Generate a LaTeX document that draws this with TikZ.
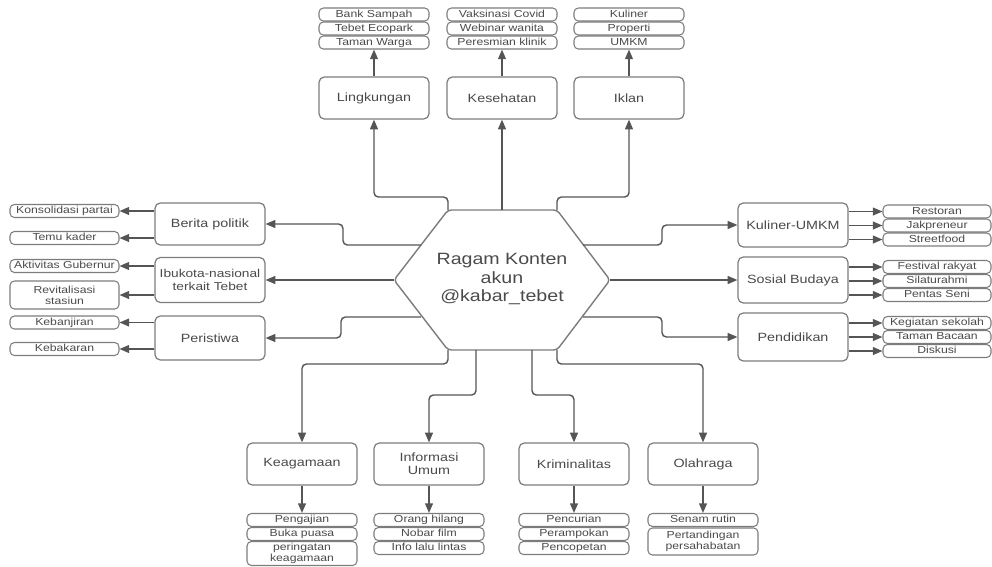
\documentclass[tikz,border=0pt]{standalone}
\usepackage{fontspec}
\setmainfont{Liberation Sans}[FakeStretch=1.2]
\usetikzlibrary{arrows.meta}
\definecolor{garis}{HTML}{555555}
\definecolor{tepi}{HTML}{7C7C7C}
\definecolor{huruf}{HTML}{4A4A4A}

\begin{document}
\begin{tikzpicture}[x=0.02cm,y=-0.02cm]
\tikzstyle{every node}=[text=huruf, inner sep=1pt]
\tikzstyle{kat}=[draw=tepi, line width=.7pt, rounded corners=3pt, minimum width=2.2cm, minimum height=0.84cm, align=center, font=\fontsize{6.8}{7.8}\selectfont]
\tikzstyle{daun}=[draw=tepi, line width=.6pt, rounded corners=2.5pt, minimum width=2.2cm, minimum height=7.4pt, inner sep=0pt, align=center, font=\fontsize{5.8}{6.4}\selectfont]
\tikzstyle{isi}=[daun, text height=4.3pt, text depth=1.2pt]
\tikzstyle{conn}=[draw=garis, line width=.8pt, rounded corners=2.5pt, -{Triangle[length=5.5pt,width=4.5pt]}]
\useasboundingbox (0,0) rectangle (992,566);

% pusat
\draw[draw=tepi, line width=.8pt, rounded corners=2pt] (394,280) coordinate (hL) -- (448,210) coordinate (hTL) -- (502,210) coordinate (hT) -- (557,210) coordinate (hTR) -- (610,280) coordinate (hR) -- (557,350) coordinate (hBR) -- (532,350) coordinate (hB2) -- (476,350) coordinate (hB1) -- (448,350) coordinate (hBL) -- cycle;
\coordinate (hLA) at (421,245);
\coordinate (hLB) at (421,317);
\coordinate (hRA) at (583,245);
\coordinate (hRB) at (583,317);
\draw (502,279) node (pusat) [font=\fontsize{9.3}{10.8}\selectfont, align=center] {Ragam Konten\\akun\\@kabar\_tebet};

% kategori
\draw (374,98) node (lingk) [kat] {Lingkungan};
\draw (502,98) node (kes) [kat] {Kesehatan};
\draw (629,98) node (iklan) [kat] {Iklan};
\draw (210,224) node (berita) [kat] {Berita politik};
\draw (210,280) node (ibukota) [kat, minimum height=0.9cm, inner sep=0pt, font=\fontsize{6.5}{7.8}\selectfont] {Ibukota-nasional\\terkait Tebet};
\draw (210,338) node (peristiwa) [kat, minimum height=0.88cm] {Peristiwa};
\draw (793,225) node (kuliner) [kat, minimum height=0.88cm] {Kuliner-UMKM};
\draw (793,280) node (sosial) [kat, minimum height=0.92cm] {Sosial Budaya};
\draw (793,337) node (pend) [kat, minimum height=0.96cm] {Pendidikan};
\draw (302,464) node (keag) [kat] {Keagamaan};
\draw (429,464) node (info) [kat, font=\fontsize{6.8}{7.3}\selectfont] {Informasi\\Umum};
\draw (574,464) node (krim) [kat] {Kriminalitas};
\draw (703,464) node (olah) [kat] {Olahraga};

% isi atas
\draw (374,14.5) node (bank) [isi] {Bank Sampah};
\draw (374,28.5) node (ecopark) [isi] {Tebet Ecopark};
\draw (374,42.5) node (tamanw) [isi] {Taman Warga};
\draw (502,14.5) node (vaksin) [isi] {Vaksinasi Covid};
\draw (502,28.5) node (webinar) [isi] {Webinar wanita};
\draw (502,42.5) node (klinik) [isi] {Peresmian klinik};
\draw (629,14.5) node (kuli) [isi] {Kuliner};
\draw (629,28.5) node (properti) [isi] {Properti};
\draw (629,42.5) node (umkm) [isi] {UMKM};

% isi kiri
\draw (64.5,211) node (konsol) [isi, minimum width=2.18cm] {Konsolidasi partai};
\draw (64.5,238) node (temu) [isi, minimum width=2.18cm] {Temu kader};
\draw (64.5,266) node (gubernur) [isi, minimum width=2.18cm] {Aktivitas Gubernur};
\draw (64.5,295) node (stasiun) [daun, minimum width=2.18cm, minimum height=0.56cm] {Revitalisasi\\stasiun};
\draw (64.5,322.5) node (banjir) [isi, minimum width=2.18cm] {Kebanjiran};
\draw (64.5,349) node (bakar) [isi, minimum width=2.18cm] {Kebakaran};

% isi kanan
\draw (937,211.5) node (resto) [isi, minimum width=2.16cm] {Restoran};
\draw (937,225.5) node (jakpre) [isi, minimum width=2.16cm] {Jakpreneur};
\draw (937,239.5) node (street) [isi, minimum width=2.16cm] {Streetfood};
\draw (937,267) node (festival) [isi, minimum width=2.16cm] {Festival rakyat};
\draw (937,281) node (silat) [isi, minimum width=2.16cm] {Silaturahmi};
\draw (937,295) node (pentas) [isi, minimum width=2.16cm] {Pentas Seni};
\draw (937,323) node (sekolah) [isi, minimum width=2.16cm] {Kegiatan sekolah};
\draw (937,337) node (bacaan) [isi, minimum width=2.16cm] {Taman Bacaan};
\draw (937,351) node (diskusi) [isi, minimum width=2.16cm] {Diskusi};

% isi bawah
\draw (302,520) node (ngaji) [isi] {Pengajian};
\draw (302,534) node (buka) [isi] {Buka puasa};
\draw (302,553.5) node (peringatan) [daun, minimum height=0.48cm] {peringatan\\keagamaan};
\draw (429,520) node (hilang) [isi] {Orang hilang};
\draw (429,534) node (nobar) [isi] {Nobar film};
\draw (429,548) node (lintas) [isi] {Info lalu lintas};
\draw (574,520) node (curi) [isi] {Pencurian};
\draw (574,534) node (rampok) [isi] {Perampokan};
\draw (574,548) node (copet) [isi] {Pencopetan};
\draw (703,520) node (senam) [isi] {Senam rutin};
\draw (703,541.5) node (tanding) [daun, minimum height=0.54cm] {Pertandingan\\persahabatan};

% dari pusat
\draw[conn] (hTL) -- ++(0,-13) -| (lingk.south);
\draw[conn] (hT) -- (kes.south);
\draw[conn] (hTR) -- ++(0,-13) -| (iklan.south);
\draw[conn] (hLA) -- (343,245) |- (berita.east);
\draw[conn] (hL) -- (ibukota.east);
\draw[conn] (hLB) -- (341,317) |- (peristiwa.east);
\draw[conn] (hRA) -- (662,245) |- (kuliner.west);
\draw[conn] (hR) -- (sosial.west);
\draw[conn] (hRB) -- (662,317) |- (pend.west);
\draw[conn] (hBL) -- ++(0,14) -| (keag.north);
\draw[conn] (hB1) -- (476,395) -| (info.north);
\draw[conn] (hB2) -- (532,395) -| (krim.north);
\draw[conn] (hBR) -- ++(0,14) -| (olah.north);

% ke isi
\draw[conn] (lingk.north) -- (tamanw.south);
\draw[conn] (kes.north) -- (klinik.south);
\draw[conn] (iklan.north) -- (umkm.south);
\draw[conn] (konsol.east -| berita.west) -- (konsol.east);
\draw[conn] (temu.east -| berita.west) -- (temu.east);
\draw[conn] (gubernur.east -| ibukota.west) -- (gubernur.east);
\draw[conn] (stasiun.east -| ibukota.west) -- (stasiun.east);
\draw[conn] (banjir.east -| peristiwa.west) -- (banjir.east);
\draw[conn] (bakar.east -| peristiwa.west) -- (bakar.east);
\draw[conn] (resto.west -| kuliner.east) -- (resto.west);
\draw[conn] (jakpre.west -| kuliner.east) -- (jakpre.west);
\draw[conn] (street.west -| kuliner.east) -- (street.west);
\draw[conn] (festival.west -| sosial.east) -- (festival.west);
\draw[conn] (silat.west -| sosial.east) -- (silat.west);
\draw[conn] (pentas.west -| sosial.east) -- (pentas.west);
\draw[conn] (sekolah.west -| pend.east) -- (sekolah.west);
\draw[conn] (bacaan.west -| pend.east) -- (bacaan.west);
\draw[conn] (diskusi.west -| pend.east) -- (diskusi.west);
\draw[conn] (keag.south) -- (ngaji.north);
\draw[conn] (info.south) -- (hilang.north);
\draw[conn] (krim.south) -- (curi.north);
\draw[conn] (olah.south) -- (senam.north);
\end{tikzpicture}
\end{document}
